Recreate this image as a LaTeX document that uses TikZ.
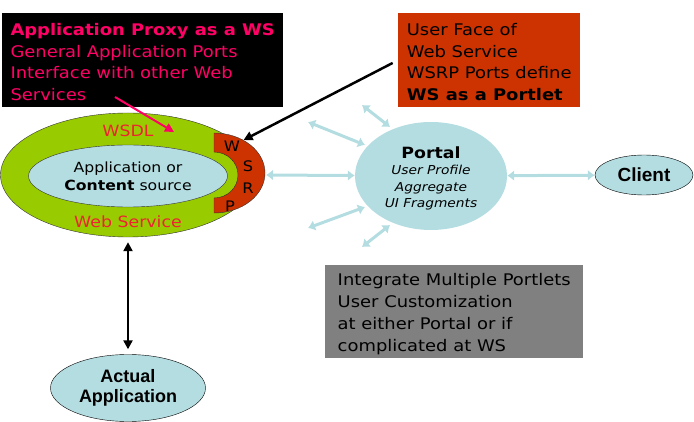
\documentclass[tikz,border=0pt]{standalone}
\usepackage{fontspec}
\setmainfont{DejaVu Sans}[FakeStretch=1.12]
\newfontfamily\arialfont{Liberation Sans}
\usetikzlibrary{shapes.geometric,arrows.meta}

\definecolor{leaf}{HTML}{99CC00}
\definecolor{paleblue}{HTML}{B4DDE1}
\definecolor{rust}{HTML}{CC3300}
\definecolor{hotpink}{HTML}{FF0066}
\definecolor{wsred}{HTML}{EE2233}
\definecolor{slate}{HTML}{808080}

\def\boxfont{\fontsize{16}{21.7}\selectfont}
\def\redfont{\fontsize{15.5}{18}\selectfont\color{wsred}}
\def\letterfont{\fontsize{14.5}{16}\selectfont}
\def\topstrut#1{\rule{0pt}{#1pt}}

\tikzset{
  notebox/.style={rectangle, anchor=north west, align=left, inner sep=0pt,
    minimum height=94pt, font=\boxfont},
  blob/.style={ellipse, fill=paleblue, inner sep=0pt},
  fanarrow/.style={{Latex[length=7pt,width=11pt]}-{Latex[length=7pt,width=11pt]},
    paleblue, line width=3pt},
  blackarrow/.style={-{Triangle[length=9pt,width=9pt]}, line width=2.5pt},
}

\begin{document}
\begin{tikzpicture}[x=1pt,y=-1pt]
\useasboundingbox (0,0) rectangle (694,422);

% web service rings
\node [ellipse, fill=leaf, draw=black!80, thin, minimum width=255pt,
  minimum height=124pt] (websvc) at (128,175) {};
\filldraw [fill=rust, draw=black!80, thin] (214,133)
  arc [start angle=-90, end angle=90, x radius=51, y radius=40] -- (214,198)
  arc [start angle=90, end angle=-90, x radius=24, y radius=23] -- cycle;
\node [blob, draw=black!80, thin, minimum width=199pt, minimum height=62pt,
  align=center, font=\fontsize{14}{18}\selectfont] (source) at (128,176)
  {Application or\\\textbf{Content} source};
\node [font=\redfont] (wsdl) at (128,131) {WSDL};
\node [font=\redfont] (wslabel) at (128,222) {Web Service};
\node [font=\letterfont] (letterW) at (232,146) {W};
\node [font=\letterfont] (letterS) at (248,166) {S};
\node [font=\letterfont] (letterR) at (248,188) {R};
\node [font=\letterfont] (letterP) at (230,206) {P};

% text boxes
\node [notebox, fill=black, minimum width=281pt, text=hotpink] (proxybox) at (2,13)
  {\topstrut{16}\textbf{Application Proxy as a WS}\\General Application Ports\\
   Interface with other Web\\Services};
\node [notebox, fill=rust, minimum width=182pt] (facebox) at (398,13)
  {\topstrut{16}User Face of\\Web Service\\WSRP Ports define\\\textbf{WS as a Portlet}};
\node [notebox, fill=slate, minimum width=258pt, minimum height=93pt] (portletbox) at (325,265)
  {\topstrut{17}Integrate Multiple Portlets\\User Customization\\at either Portal or if\\
   complicated at WS};

% portal and clients
\node [blob, minimum width=152pt, minimum height=108pt, align=center,
  font=\fontsize{12.3}{16.5}\selectfont\itshape] (portal) at (431,176)
  {{\upshape\bfseries\fontsize{15.5}{17}\selectfont\topstrut{17}Portal}\\User Profile\\
   Aggregate\\UI Fragments};
\node [blob, draw=black, thin, minimum width=98pt, minimum height=40pt,
  font=\arialfont\bfseries\fontsize{19}{20}\selectfont] (client) at (644,175) {Client};
\node [blob, draw=black, thin, minimum width=155pt, minimum height=67pt, align=center,
  font=\arialfont\bfseries\fontsize{18}{20}\selectfont] (actual) at (128,388)
  {Actual\\Application};

\coordinate (pinkstart) at (115,97);
\coordinate (pinkend) at (174,132);
\coordinate (wsrpedge) at (266,175);

\draw [fanarrow] (wsrpedge) -- (portal);
\draw [fanarrow] (portal) -- (client);
\foreach \n/\a/\b in {1/{390,127}/{362,105}, 2/{365,145}/{308,122},
                      3/{365,207}/{308,228}, 4/{390,225}/{362,247}}
{
  \coordinate (near\n) at (\a);
  \coordinate (far\n) at (\b);
  \draw [fanarrow] (near\n) -- (far\n);
}

\draw [blackarrow, hotpink, line width=2pt] (pinkstart) -- (pinkend);
\draw [blackarrow, shorten <=6pt] (facebox.west) -- (letterW);
\draw [blackarrow, {Triangle[length=9pt,width=9pt]}-{Triangle[length=9pt,width=9pt]},
  shorten <=5pt, shorten >=5pt] (websvc) -- (actual);
\end{tikzpicture}
\end{document}
